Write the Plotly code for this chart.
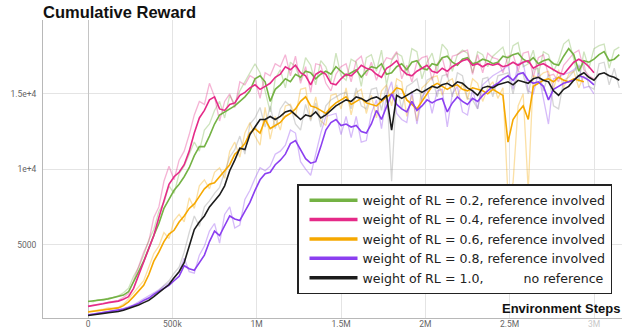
import plotly.graph_objects as go

STEP = 30000  # environment steps between logged points

labels = [
    "weight of RL = 0.2, reference involved",
    "weight of RL = 0.4, reference involved",
    "weight of RL = 0.6, reference involved",
    "weight of RL = 0.8, reference involved",
    "weight of RL = 1.0,\u00a0\u00a0\u00a0\u00a0\u00a0\u00a0\u00a0\u00a0\u00a0 no reference",
]
colors = ["#74b244", "#e52a88", "#f6a800", "#8b3ff0", "#1c1c1c"]
raw_colors = ["#74b244", "#e52a88", "#f6a800", "#8b3ff0", "#8c8c8c"]

# smoothed curves
g_s = [1220, 1250, 1300, 1350, 1400, 1480, 1530, 1650, 1870,
       2500, 3200, 3900, 4800, 5600, 6400, 7400, 8000, 8600, 9000, 9500, 10100,
       10900, 11500, 11500, 12200, 13000, 13600, 13800, 14000, 14200, 14500, 14800, 15200,
       16000, 16200, 15800, 14500, 15300, 15600, 16000, 15800, 16300, 16100, 16500, 16400,
       16000, 16300, 16500, 16300, 16800, 16500, 16200, 16400, 16600, 16100, 16500, 16800,
       16700, 17000, 16300, 16400, 16800, 17000, 16600, 17100, 17200, 16700, 16600, 17000,
       16900, 17400, 17500, 17100, 16900, 17300, 17400, 17000, 17100, 17300, 17200, 17000,
       17100, 17500, 17400, 17600, 17700, 17300, 17100, 17400, 17000, 17200, 17300, 17000,
       16900, 17500, 18000, 17600, 16500, 17200, 17100, 17300, 17600, 17800, 17200, 17300, 17600]
p_s = [900, 950, 1020, 1080, 1150, 1200, 1250, 1380, 1550,
       2100, 3000, 3900, 4700, 5600, 6800, 7900, 9000, 9500, 9800, 10300, 11200,
       12400, 13400, 13900, 14600, 14800, 14000, 13900, 14300, 14400, 14900, 15100, 15400,
       15600, 15300, 15500, 15700, 16100, 16300, 16800, 16600, 16900, 16400, 16200, 15600,
       16300, 16500, 16300, 15700, 15600, 16000, 16300, 16200, 16500, 16900, 16700, 16600,
       16300, 16100, 16700, 16900, 17200, 16600, 16300, 16200, 16500, 16700, 16900, 16500,
       16400, 16700, 16500, 16800, 17000, 17200, 17300, 16900, 17000, 16800, 17000, 16900,
       17000, 16800, 16900, 17100, 16900, 17100, 17200, 16700, 16900, 17000, 16800, 16600,
       16400, 16300, 16700, 17100, 17300, 17100, 16800, 16400]
o_s = [530, 580, 640, 700, 750, 780, 800, 950, 1200,
       1550, 1900, 2300, 3000, 3900, 4500, 5200, 5700, 5950, 6500, 6900, 7400,
       7700, 8200, 8700, 9000, 9100, 9500, 9900, 10300, 11000, 11300, 11700, 12400,
       12700, 12400, 13300, 12700, 12900, 13100, 13500, 13700, 14000, 14500, 14800, 14200,
       14100, 13900, 13700, 14100, 14400, 14600, 14800, 14300, 14500, 14700, 14400, 14300,
       14200, 14500, 14800, 15000, 15400, 15300, 14600, 14300, 14000, 14500, 15000, 15500,
       15700, 15500, 15300, 15500, 15600, 15300, 15200, 15400, 15300, 15200, 15000, 15300,
       15100, 14900, 11800, 13300, 13800, 14200, 13300, 15500, 15700, 15900, 16000, 15800,
       16100, 15900, 15800, 16000, 15900, 15800]
u_s = [330, 380, 440, 500, 560, 590, 620, 720, 830,
       950, 1100, 1300, 1450, 1700, 1900, 2100, 2300, 2600, 2900, 3600, 3400,
       3300, 3800, 4300, 5200, 5900, 5600, 6300, 6900, 6700, 6600, 7200, 7800,
       8600, 9300, 9700, 9800, 10300, 10600, 11000, 11700, 11900, 11300, 10700, 10400,
       10500, 11500, 12600, 13100, 13300, 12900, 13000, 12800, 12900, 12500, 12400, 13000,
       13900, 13300, 14200, 15000, 14300, 14000, 13800, 14500, 13900, 14200, 14600, 14400,
       14600, 14700, 13800, 14400, 14800, 14500, 14300, 14700, 14500, 14900, 15200, 15500,
       15700, 16000, 16200, 15900, 16300, 16400, 15900, 15700, 15800, 15500, 14600, 15300,
       15500, 15700, 15800, 15900, 16200, 16100, 15900, 15600]
k_s = [300, 330, 380, 430, 480, 520, 560, 650, 760,
       880, 1000, 1150, 1300, 1550, 1800, 2100, 2350, 2800, 3200, 3800, 4900,
       6000, 6500, 6900, 7500, 7900, 8300, 8900, 9900, 10600, 11400, 11300, 12300,
       12800, 13300, 13300, 13500, 13300, 13500, 13800, 13900, 13600, 13300, 13600, 13500,
       13800, 13400, 13600, 13900, 14200, 14400, 14600, 14500, 14800, 14700, 14500, 14700,
       14800, 14600, 14900, 12600, 14900, 14700, 14900, 15100, 15300, 15100, 15300, 15500,
       15400, 15600, 15700, 15500, 15800, 15700, 15400, 15200, 14900, 15400, 15500, 15400,
       15600, 15700, 15800, 15600, 15900, 15800, 15700, 16000, 16100, 15900, 15800, 15200,
       14900, 15300, 15500, 15900, 16200, 16400, 16100, 15900, 16300, 16400, 16200, 16100, 15900]

# raw (unsmoothed) curves
g_r = [1250, 1200, 1350, 1300, 1450, 1500, 1600, 1800, 2100,
       2900, 3500, 4300, 5300, 6000, 7200, 7800, 8900, 8400, 9700, 10200, 11000,
       11800, 11200, 12600, 13000, 13900, 14500, 13400, 14900, 14300, 15200, 15800, 16500,
       17000, 16400, 15200, 13800, 16000, 16600, 15400, 17100, 16800, 15900, 17400, 16900,
       15600, 17200, 16800, 15800, 17700, 16200, 15900, 17300, 17100, 15500, 17400, 17600,
       16500, 17900, 15600, 17200, 17700, 17500, 16200, 18000, 17800, 16000, 17100, 17700,
       16400, 18300, 17900, 16500, 17600, 17900, 17700, 16400, 17800, 17600, 16800, 17500,
       17800, 18100, 16900, 18200, 18400, 16800, 17000, 17900, 16300, 17800, 17600, 16500,
       17200, 18300, 18600, 17300, 15800, 17800, 16700, 18000, 18200, 18300, 16700, 17900, 18100]
p_r = [920, 980, 1050, 1100, 1200, 1250, 1300, 1500, 1750,
       2600, 3600, 4500, 5200, 6800, 7500, 9200, 10200, 9300, 10600, 11200, 12300,
       13600, 14500, 14300, 15700, 14800, 13200, 14500, 15000, 14100, 15800, 15600, 16200,
       16000, 14700, 16400, 16200, 17000, 16800, 17600, 16200, 17500, 15700, 16800, 15100,
       17000, 16900, 15700, 15200, 16300, 16800, 17000, 15800, 17200, 17500, 16200, 17100,
       15900, 16800, 17400, 17300, 17800, 16000, 16900, 15800, 17100, 17400, 17500, 15900,
       17000, 17400, 16100, 17500, 17600, 17800, 17900, 16300, 17600, 16400, 17700, 17400,
       17300, 16400, 17500, 17600, 16500, 17700, 17800, 16100, 17400, 17600, 16200, 16300,
       15800, 16900, 17300, 17700, 17900, 16600, 16200, 16000]
o_r = [560, 600, 680, 720, 800, 790, 850, 1050, 1400,
       1800, 2200, 2600, 3500, 4400, 4900, 5800, 5400, 6600, 7000, 6500, 8100,
       7400, 8900, 9300, 8700, 9800, 10100, 9400, 11200, 11800, 10800, 12400, 13100,
       12200, 11600, 14100, 12000, 13500, 12600, 14200, 14300, 13500, 15300, 15400, 13300,
       14800, 13200, 12900, 14900, 15000, 14000, 15400, 13600, 15100, 15300, 13700, 14900,
       13400, 15200, 15600, 14200, 16000, 15800, 13500, 14900, 13200, 15400, 15700, 16100,
       16200, 14900, 15800, 16000, 14800, 15700, 14600, 16000, 15700, 14500, 15400, 15800,
       14700, 15400, 8200, 9100, 14200, 15000, 8600, 16200, 16100, 16400, 16500, 15300,
       16600, 15400, 16300, 16500, 15400, 16200]
u_r = [350, 400, 470, 520, 580, 610, 650, 760, 880,
       1000, 1200, 1400, 1550, 1800, 2000, 2250, 2450, 2800, 3200, 4100, 3200,
       3100, 4300, 4900, 5900, 6400, 5100, 7000, 7500, 6100, 6300, 8000, 8600,
       9400, 10100, 9900, 10200, 11000, 11200, 11600, 12600, 12400, 10500, 10000, 9600,
       11000, 12400, 13500, 13600, 13700, 12300, 13500, 12100, 13500, 11800, 11900, 13700,
       14600, 12700, 14900, 15800, 13700, 13300, 13100, 15200, 13000, 14800, 15300, 13700,
       15200, 15300, 12800, 15000, 15500, 13800, 13600, 15300, 14000, 15600, 15900, 16200,
       16400, 16600, 16900, 15300, 17000, 17100, 15200, 15000, 16400, 14800, 13000, 16000,
       16100, 16300, 16400, 16600, 16900, 15400, 15500, 15000]
k_r = [320, 350, 400, 450, 500, 540, 600, 700, 800,
       920, 1050, 1250, 1400, 1700, 1950, 2300, 2600, 3100, 3500, 4500, 5800,
       6900, 6200, 7500, 7900, 8400, 8800, 9800, 10800, 11300, 12200, 11000, 13000,
       13400, 14100, 12800, 14200, 12700, 14000, 14500, 14200, 13000, 12600, 14300, 13200,
       14400, 12800, 14200, 14600, 14800, 15000, 15100, 14000, 15400, 14200, 14000, 15300,
       15400, 13900, 15600, 9200, 15600, 14000, 15500, 15700, 16000, 14500, 15900, 16100,
       14800, 16200, 16300, 14800, 16400, 16200, 14700, 14600, 14000, 16000, 16100, 14800,
       16200, 16300, 16400, 15000, 16500, 16300, 15000, 16600, 16700, 15200, 16300, 14200,
       14000, 15900, 16100, 16500, 16800, 17000, 15500, 15300, 17000, 17100, 15600, 16700, 15400]

smoothed = [g_s, p_s, o_s, u_s, k_s]
raw = [g_r, p_r, o_r, u_r, k_r]

x_tickvals = [0, 500000, 1000000, 1500000, 2000000, 2500000, 3000000]
x_ticktext = ["0", "500k", "1M", "1.5M", "2M", "2.5M", "<span style='color:#c8c8c8'>3M</span>"]
y_tickvals = [5000, 10000, 15000]
y_ticktext = ["5000", "1e+4", "1.5e+4"]

fig = go.Figure()

for ys, c in zip(raw, raw_colors):
    xs = [i * STEP for i in range(len(ys))]
    fig.add_trace(go.Scatter(x=xs, y=ys, mode="lines", line=dict(color=c, width=1.3),
                             opacity=0.35, showlegend=False, hoverinfo="skip"))
for ys, c in zip(smoothed, colors):
    xs = [i * STEP for i in range(len(ys))]
    fig.add_trace(go.Scatter(x=xs, y=ys, mode="lines", line=dict(color=c, width=1.6),
                             showlegend=False))
for lab, c in zip(labels, colors):
    fig.add_trace(go.Scatter(x=[None], y=[None], mode="lines", name=lab,
                             line=dict(color=c, width=3.5)))

fig.update_layout(
    width=631, height=328,
    margin=dict(l=43, r=9, t=20, b=10),
    paper_bgcolor="white", plot_bgcolor="white",
    font=dict(family="Roboto, Liberation Sans, sans-serif", color="#666666", size=8.5),
    title=dict(text="<b>Cumulative Reward</b>", x=43 / 631, xanchor="left", xref="container",
               y=1 - 12 / 328, yanchor="middle", yref="container",
               font=dict(family="Liberation Sans, Arial, sans-serif", size=16.5, color="#111111")),
    showlegend=True,
    legend=dict(x=(297 - 43) / 579, y=(318 - 184) / 298, xanchor="left", yanchor="top",
                bgcolor="white", bordercolor="#222222", borderwidth=1.5,
                font=dict(family="DejaVu Sans, Open Sans, sans-serif", size=12.6, color="#222222"),
                itemwidth=48, tracegroupgap=0, indentation=6),
    annotations=[dict(text="<b>Environment Steps</b>", xref="paper", yref="paper",
                      x=1, y=(318 - 308) / 298, xanchor="right", yanchor="middle", showarrow=False,
                      font=dict(family="Liberation Sans, Arial, sans-serif", size=13, color="#111111"))],
)
fig.update_xaxes(range=[-267000, 3166000], tickvals=x_tickvals, ticktext=x_ticktext,
                 showgrid=True, gridcolor="#e4e4e4", gridwidth=1, automargin=False,
                 zeroline=True, zerolinecolor="#c4c4c4", zerolinewidth=1,
                 showline=True, linecolor="#b8b8b8", linewidth=1, ticks="", ticklabelstandoff=-2)
fig.update_yaxes(range=[130, 19900], tickvals=y_tickvals, ticktext=y_ticktext,
                 showgrid=True, gridcolor="#e4e4e4", gridwidth=1, zeroline=False, automargin=False,
                 showline=True, linecolor="#b8b8b8", linewidth=1, ticks="", ticklabelstandoff=4)

fig.write_html("out.html", config={"displayModeBar": False},
               post_script="document.body.style.margin='0';document.body.style.overflow='hidden';")
